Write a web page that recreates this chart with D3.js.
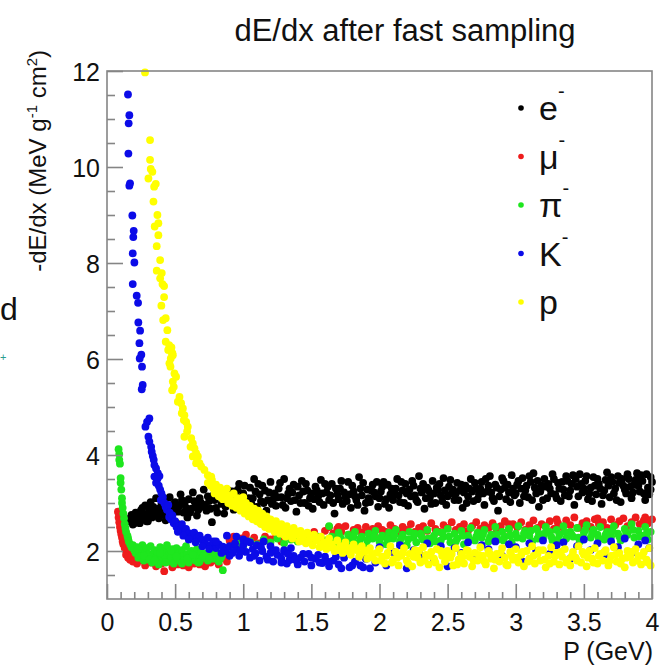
<!DOCTYPE html>
<html>
<head>
<meta charset="utf-8">
<script src="https://cdn.jsdelivr.net/npm/d3@7.9.0/dist/d3.min.js"></script>
<style>
  body { margin: 0; background: #fff; }
  svg { display: block; font-family: 'Liberation Sans', Arial, Helvetica, sans-serif; }
</style>
</head>
<body>
<svg id="chart" width="663" height="670"></svg>
<script>
// [P (GeV), -dE/dx (MeV g^-1 cm^2)]
const electron = [
  [0.17,2.62],[0.18,2.75],[0.19,2.55],[0.2,2.68],[0.21,2.8],[0.22,2.6],[0.23,2.72],[0.24,2.58],[0.25,2.85],[0.26,2.66],
  [0.27,2.78],[0.28,2.95],[0.29,2.62],[0.3,2.74],[0.31,2.88],[0.32,3.02],[0.33,2.7],[0.35,2.82],[0.36,3.1],[0.38,2.68],[0.39,2.9],
  [0.4,2.98],[0.41,2.76],[0.42,3.05],[0.43,2.64],[0.45,2.9],[0.46,3.12],[0.47,2.72],[0.49,2.86],[0.5,3.02],[0.51,2.58],
  [0.53,2.94],[0.54,3.18],[0.56,2.8],[0.57,3.0],[0.59,2.7],[0.6,3.08],[0.62,2.88],[0.63,3.22],[0.65,2.96],[0.66,2.74],
  [0.68,3.1],[0.7,2.92],[0.71,3.28],[0.73,2.84],[0.75,3.04],[0.77,2.6],[0.78,3.16],[0.8,2.9],[0.82,3.3],[0.84,2.98],[0.86,2.78],[0.88,3.12],
  [0.9,3.02],[0.92,3.24],[0.93,2.86],[0.95,3.14],[0.97,3.4],[0.98,2.96],[1.0,3.2],[1.02,3.05],[1.03,2.78],[1.04,3.1],[1.05,3.32],
  [1.07,3.1],[1.08,3.5],[1.1,2.92],[1.12,3.18],[1.14,3.36],[1.15,3.0],[1.17,2.84],[1.18,3.06],[1.19,3.22],[1.2,3.44],[1.22,3.08],
  [1.24,2.94],[1.26,3.3],[1.28,3.12],[1.3,3.5],[1.31,2.9],[1.33,3.2],[1.34,3.3],[1.35,3.04],[1.37,3.38],[1.39,2.82],[1.41,3.16],
  [1.43,3.46],[1.45,3.0],[1.47,3.26],[1.49,3.1],[1.5,3.2],[1.51,2.88],[1.53,3.34],[1.55,3.14],[1.57,3.48],[1.59,2.96],[1.61,3.22],
  [1.62,3.34],[1.63,3.06],[1.65,3.4],[1.67,2.78],[1.69,3.18],[1.71,3.3],[1.73,2.98],[1.75,3.12],[1.77,3.44],[1.78,3.18],[1.79,2.9],
  [1.81,3.24],[1.83,3.06],[1.85,3.54],[1.87,3.16],[1.89,2.84],[1.91,3.28],[1.92,3.1],[1.93,3.02],[1.95,3.38],[1.96,3.22],[1.97,3.14],[1.99,2.92],
  [2.01,3.24],[2.03,3.44],[2.05,3.08],[2.07,2.9],[2.08,3.18],[2.09,3.3],[2.11,3.18],[2.13,3.5],[2.15,3.02],[2.17,3.26],[2.19,3.4],
  [2.2,3.2],[2.21,2.94],[2.23,3.14],[2.25,3.36],[2.27,3.06],[2.29,3.56],[2.3,3.3],[2.31,3.22],[2.33,2.88],[2.35,3.32],[2.37,3.12],
  [2.39,3.46],[2.41,3.0],[2.42,3.32],[2.43,3.28],[2.45,3.16],[2.47,3.52],[2.49,2.96],[2.51,3.34],[2.53,3.2],[2.54,3.28],[2.55,3.06],
  [2.57,3.42],[2.59,3.26],[2.61,2.9],[2.63,3.36],[2.65,3.14],[2.66,3.3],[2.67,3.5],[2.69,3.04],[2.71,3.3],[2.73,3.18],[2.75,3.44],
  [2.77,2.96],[2.79,3.24],[2.8,3.36],[2.81,3.56],[2.83,3.1],[2.85,3.38],[2.87,2.84],[2.89,3.28],[2.91,3.46],[2.92,3.32],[2.93,3.08],
  [2.95,3.22],[2.97,3.58],[2.99,3.16],
  [3.01,3.38],[3.03,3.0],[3.04,3.3],[3.05,3.52],[3.07,3.26],[3.09,3.12],[3.11,3.44],[3.13,3.62],[3.14,3.32],[3.15,3.2],[3.17,2.92],
  [3.19,3.36],[3.21,3.5],[3.23,3.1],[3.24,3.4],[3.25,3.3],[3.27,3.6],[3.29,3.18],[3.31,3.42],[3.33,3.04],[3.34,3.44],[3.35,3.28],
  [3.37,3.56],[3.39,3.14],[3.41,3.4],[3.43,2.96],[3.44,3.5],[3.45,3.34],[3.47,3.6],[3.49,3.22],[3.51,3.46],[3.53,3.08],[3.55,3.32],
  [3.57,3.54],[3.58,3.36],[3.59,3.18],[3.61,3.4],[3.63,2.98],[3.65,3.26],[3.66,3.48],[3.67,3.64],[3.69,3.12],[3.71,3.44],[3.73,3.3],
  [3.75,3.56],[3.76,3.42],[3.77,3.02],[3.79,3.36],[3.81,3.2],[3.83,3.5],[3.84,3.34],[3.85,3.1],[3.87,3.38],[3.89,3.62],[3.91,3.24],
  [3.92,3.58],[3.93,3.46],[3.95,3.06],[3.97,3.32],[3.98,3.18],[3.99,3.54],
  [0.175,2.7],[0.2,2.58],[0.22,2.74],[0.24,2.66],[0.26,2.9],[0.28,2.7],[0.3,2.62],[0.32,2.84],[0.34,2.92],[0.37,2.76],
  [0.4,2.84],[0.44,2.78],[0.48,2.96],[0.52,2.82],[0.55,3.06],[0.58,2.9],[0.61,2.8],[0.64,3.04],[0.67,2.86],[0.69,3.0],
  [0.72,2.96],[0.74,3.14],[0.76,2.88],[0.79,3.06],[0.81,2.8],[0.83,3.14],[0.85,3.2],[0.87,2.92],[0.89,3.26],
  [0.91,3.1],[0.94,2.98],[0.96,3.28],[0.99,3.08],[1.01,3.36],[1.06,2.98],[1.09,3.24],[1.11,3.4],[1.13,3.04],[1.16,3.26],
  [1.21,2.98],[1.23,3.2],[1.25,3.12],[1.27,3.42],[1.29,2.96],[1.32,3.1],[1.36,3.22],[1.38,3.06],[1.4,3.34],[1.42,3.0],
  [1.44,3.24],[1.46,3.4],[1.48,2.94],[1.52,3.08],[1.54,3.26],[1.56,3.02],[1.58,3.2],[1.6,3.4],[1.64,3.16],[1.66,3.0],
  [1.68,3.3],[1.7,3.08],[1.72,3.46],[1.74,3.22],[1.76,3.04],[1.8,3.36],[1.82,3.14],[1.84,2.96],[1.86,3.3],[1.88,3.42],
  [1.9,3.0],[1.94,3.26],[1.98,3.44],
  [2.0,3.1],[2.02,3.34],[2.04,2.98],[2.06,3.38],[2.1,3.06],[2.12,3.3],[2.14,3.16],[2.16,3.44],[2.18,3.0],[2.22,3.28],
  [2.24,3.46],[2.26,3.16],[2.28,3.02],[2.32,3.4],[2.34,3.1],[2.36,3.26],[2.38,2.98],[2.4,3.2],[2.44,3.4],[2.46,3.04],
  [2.48,3.26],[2.5,3.14],[2.52,3.48],[2.56,3.2],[2.58,3.06],[2.6,3.38],[2.62,3.22],[2.64,3.0],[2.68,3.24],[2.7,3.42],
  [2.72,3.08],[2.74,3.3],[2.76,3.2],[2.78,3.5],[2.82,3.22],[2.84,3.04],[2.86,3.32],[2.88,3.14],[2.9,3.52],[2.94,3.38],
  [2.96,3.02],[2.98,3.3],
  [3.0,3.2],[3.02,3.46],[3.06,3.14],[3.08,3.36],[3.1,3.56],[3.12,3.06],[3.16,3.46],[3.18,3.24],[3.2,3.06],[3.22,3.34],
  [3.26,3.2],[3.28,3.5],[3.3,3.1],[3.32,3.3],[3.36,3.16],[3.38,3.46],[3.4,3.26],[3.42,3.58],[3.46,3.14],[3.48,3.4],
  [3.5,3.3],[3.52,3.56],[3.54,3.2],[3.56,3.04],[3.6,3.5],[3.62,3.3],[3.64,3.16],[3.68,3.36],[3.7,3.54],[3.72,3.2],
  [3.74,3.06],[3.78,3.5],[3.8,3.28],[3.82,3.6],[3.86,3.22],[3.88,3.48],[3.9,3.36],[3.94,3.2],[3.96,3.6],[3.99,3.28],[4.0,3.44]
];

const muon = [
  [0.08,2.82],[0.085,2.7],[0.09,2.76],[0.09,2.6],[0.095,2.5],[0.1,2.42],[0.1,2.55],[0.105,2.35],[0.11,2.28],[0.11,2.44],
  [0.115,2.2],[0.12,2.14],[0.12,2.3],[0.13,2.06],[0.13,2.18],[0.14,2.0],[0.14,1.92],[0.15,1.96],[0.155,1.86],[0.16,1.9],
  [0.17,1.82],[0.18,1.88],[0.19,1.78],[0.2,1.84],
  [0.22,1.74],[0.24,1.9],[0.26,1.8],[0.28,1.7],[0.3,1.86],[0.32,1.76],[0.34,1.94],[0.36,1.68],[0.38,1.82],[0.4,1.74],
  [0.42,1.58],[0.44,1.9],[0.46,1.78],[0.48,1.66],[0.5,1.84],[0.52,1.72],[0.54,1.92],[0.56,1.7],[0.58,1.8],[0.6,1.66],
  [0.62,1.86],[0.64,1.74],[0.66,1.96],[0.68,1.72],[0.7,1.82],[0.72,1.68],[0.74,1.88],[0.76,1.76],[0.78,1.9],[0.8,1.8],
  [0.82,1.72],[0.85,1.86],[0.88,1.78],
  [0.9,2.22],[0.93,2.3],[0.96,2.18],[0.99,2.26],[1.02,2.34],[1.05,2.2],[1.08,2.28],[1.12,2.16],[1.16,2.3],[1.2,2.24],
  [1.24,2.36],[1.28,2.2],[1.32,2.3],[1.36,2.26],[1.4,2.38],[1.44,2.22],[1.48,2.32],[1.52,2.4],[1.56,2.28],
  [1.6,2.42],[1.63,2.5],[1.66,2.36],[1.69,2.46],[1.7,2.5],[1.72,2.4],[1.75,2.52],[1.78,2.34],[1.81,2.44],[1.84,2.48],[1.87,2.38],
  [1.9,2.5],[1.93,2.42],[1.95,2.46],[1.96,2.36],[1.99,2.52],[2.02,2.44],[2.05,2.4],[2.08,2.54],[2.11,2.46],[2.14,2.38],[2.17,2.5],
  [2.2,2.44],[2.23,2.56],[2.26,2.4],[2.29,2.48],[2.3,2.44],[2.32,2.52],[2.35,2.42],[2.38,2.58],[2.41,2.46],[2.44,2.4],[2.47,2.54],
  [2.5,2.48],[2.53,2.6],[2.56,2.44],[2.59,2.5],[2.6,2.46],[2.62,2.56],[2.65,2.42],[2.68,2.52],[2.71,2.6],[2.74,2.46],[2.77,2.54],
  [2.8,2.48],[2.83,2.58],[2.86,2.44],[2.89,2.52],[2.92,2.62],[2.95,2.46],[2.95,2.56],[2.98,2.56],[3.01,2.5],[3.04,2.6],[3.07,2.44],
  [3.1,2.54],[3.13,2.64],[3.16,2.48],[3.19,2.56],[3.22,2.52],[3.25,2.62],[3.28,2.46],[3.3,2.66],[3.31,2.58],[3.34,2.5],[3.37,2.64],
  [3.4,2.54],[3.43,2.7],[3.46,2.48],[3.49,2.58],[3.52,2.62],[3.55,2.5],[3.58,2.66],[3.6,2.68],[3.61,2.56],[3.64,2.6],[3.67,2.48],
  [3.7,2.66],[3.73,2.54],[3.76,2.62],[3.79,2.68],[3.82,2.52],[3.85,2.6],[3.88,2.7],[3.91,2.56],[3.94,2.64],[3.95,2.7],[3.97,2.58],[4.0,2.66]
];

const pion = [
  [0.085,4.12],[0.09,4.02],[0.09,3.9],[0.095,3.82],[0.1,3.52],[0.1,3.42],[0.105,3.28],[0.11,3.1],[0.11,3.0],[0.115,2.9],
  [0.12,2.78],[0.125,2.68],[0.13,2.56],[0.135,2.48],[0.14,2.4],[0.15,2.32],[0.155,2.26],[0.16,2.2],[0.17,2.14],[0.18,2.08],
  [0.19,2.12],[0.2,2.02],
  [0.21,1.96],[0.22,2.08],[0.23,1.86],[0.24,2.0],[0.25,1.9],[0.26,2.12],[0.27,1.8],[0.28,1.98],[0.29,2.06],[0.3,1.84],
  [0.31,1.94],[0.32,2.1],[0.33,1.76],[0.34,1.92],[0.35,2.02],[0.36,1.86],[0.37,1.98],[0.38,1.72],[0.39,2.08],[0.4,1.9],
  [0.41,1.8],[0.42,2.0],[0.43,1.88],[0.44,2.12],[0.45,1.78],[0.46,1.96],[0.47,1.86],[0.48,2.04],[0.49,1.74],[0.5,1.92],
  [0.51,2.06],[0.52,1.84],[0.53,1.96],[0.54,1.78],[0.55,2.02],[0.56,1.9],[0.57,1.82],[0.58,2.1],[0.59,1.94],[0.6,1.76],
  [0.61,1.88],[0.62,2.0],[0.63,1.84],[0.64,1.96],[0.65,1.8],[0.66,2.04],[0.67,1.9],[0.68,1.78],[0.69,1.98],[0.7,1.86],
  [0.72,1.94],[0.74,1.8],[0.76,2.0],[0.78,1.84],[0.8,1.92],[0.82,1.78],[0.84,1.88],[0.85,1.6],[0.88,1.96],[0.92,2.04],
  [0.97,2.16],[1.0,2.1],
  [0.23,2.04],[0.27,1.9],[0.31,1.82],[0.35,1.8],[0.39,1.96],[0.43,1.76],[0.47,2.0],[0.51,1.88],[0.55,1.74],[0.59,1.84],
  [0.63,1.92],[0.67,1.76],[0.71,1.9],[0.75,1.84],[0.79,1.96],[0.83,1.84],
  [1.05,2.2],[1.1,2.14],[1.15,2.24],[1.2,2.18],[1.25,2.26],[1.3,2.16],[1.35,2.24],[1.4,2.2],[1.45,2.28],[1.5,2.18],
  [1.55,2.3],[1.6,2.22],[1.63,2.52],
  [1.65,2.3],[1.67,2.16],[1.7,2.38],[1.72,2.24],[1.75,2.12],[1.77,2.34],[1.8,2.22],[1.82,2.4],[1.85,2.18],[1.87,2.3],
  [1.9,2.1],[1.92,2.36],[1.95,2.26],[1.97,2.42],[2.0,2.2],[2.02,2.32],[2.05,2.14],[2.07,2.38],[2.1,2.26],[2.12,2.44],
  [2.15,2.2],[2.17,2.34],[2.2,2.12],[2.22,2.4],[2.25,2.28],[2.27,2.18],[2.3,2.36],[2.32,2.24],[2.35,2.44],[2.37,2.16],
  [2.4,2.32],[2.42,2.4],[2.45,2.22],[2.47,2.3],[2.5,2.46],[2.52,2.18],[2.55,2.36],[2.57,2.26],[2.6,2.42],[2.62,2.14],
  [2.65,2.32],[2.67,2.48],[2.7,2.22],[2.72,2.38],[2.75,2.28],[2.77,2.44],[2.8,2.2],[2.82,2.34],[2.85,2.5],[2.87,2.24],
  [2.9,2.4],[2.92,2.3],[2.95,2.46],[2.97,2.18],[3.0,2.36],[3.02,2.52],[3.05,2.26],[3.07,2.42],[3.1,2.32],[3.12,2.2],
  [3.15,2.46],[3.17,2.36],[3.2,2.28],[3.22,2.5],[3.25,2.4],[3.27,2.22],[3.3,2.44],[3.32,2.34],[3.35,2.52],[3.37,2.26],
  [3.4,2.4],[3.42,2.3],[3.45,2.48],[3.47,2.2],[3.5,2.38],[3.52,2.54],[3.55,2.28],[3.57,2.44],[3.6,2.34],[3.62,2.5],
  [3.65,2.24],[3.67,2.4],[3.7,2.3],[3.72,2.52],[3.75,2.36],[3.77,2.22],[3.8,2.46],[3.82,2.34],[3.85,2.56],[3.87,2.28],
  [3.9,2.42],[3.92,2.32],[3.95,2.5],[3.97,2.24],[3.99,2.4],
  [1.66,2.24],[1.71,2.3],[1.76,2.2],[1.81,2.3],[1.86,2.26],[1.91,2.22],[1.96,2.3],[2.01,2.28],[2.06,2.24],[2.11,2.34],
  [2.16,2.28],[2.21,2.24],[2.26,2.36],[2.31,2.3],[2.36,2.26],[2.41,2.2],[2.46,2.38],[2.51,2.3],[2.56,2.2],[2.61,2.32],
  [2.66,2.24],[2.71,2.3],[2.76,2.36],[2.81,2.28],[2.86,2.34],[2.91,2.22],[2.96,2.32],[3.01,2.28],[3.06,2.36],[3.11,2.42],
  [3.16,2.26],[3.21,2.36],[3.26,2.3],[3.31,2.24],[3.36,2.4],[3.41,2.34],[3.46,2.28],[3.51,2.44],[3.56,2.36],[3.61,2.26],
  [3.66,2.34],[3.71,2.42],[3.76,2.3],[3.81,2.38],[3.86,2.44],[3.91,2.3],[3.96,2.36]
];

const kaon = [
  [0.154,11.51],[0.164,11.08],[0.159,10.91],[0.157,10.28],[0.169,9.66],[0.164,9.61],[0.186,8.99],[0.196,8.67],[0.193,8.54],
  [0.189,8.2],[0.201,8.01],[0.189,7.56],[0.218,7.32],[0.228,7.17],[0.23,6.76],[0.243,6.59],[0.238,6.33],[0.252,6.09],
  [0.24,6.01],[0.257,5.84],[0.262,5.46],[0.255,5.37],[0.311,4.76],[0.294,4.69],[0.282,4.59],[0.304,4.38],[0.311,4.28],
  [0.324,4.17],[0.328,4.07],[0.336,3.98],[0.343,3.9],[0.348,3.79],[0.36,3.72],[0.373,3.62],[0.385,3.56],[0.348,3.55],
  [0.36,3.42],[0.37,3.5],[0.38,3.36],[0.39,3.28],[0.4,3.2],[0.395,3.06],[0.41,3.12],[0.42,3.0],[0.43,2.92],[0.44,2.86],
  [0.45,2.96],[0.456,2.71],[0.46,2.8],[0.47,2.66],[0.48,2.74],[0.49,2.58],[0.5,2.62],[0.51,2.5],[0.53,2.51],[0.54,2.44],
  [0.55,2.56],[0.57,2.4],[0.58,2.46],[0.6,2.37],[0.62,2.3],[0.64,2.38],[0.66,2.26],[0.68,2.32],[0.7,2.23],[0.72,2.16],
  [0.74,2.28],[0.76,2.12],[0.78,2.2],[0.8,2.06],[0.82,2.14],[0.85,2.09],[0.87,2.0],[0.88,2.32],[0.9,2.1],[0.92,1.96],
  [0.95,2.04],[0.95,2.3],[0.97,1.9],[1.0,2.12],[1.0,2.24],[1.02,1.98],[1.05,1.86],[1.05,2.18],[1.07,2.04],[1.09,1.95],
  [1.1,2.12],[1.12,1.8],[1.14,2.0],[1.15,2.2],[1.17,1.88],[1.2,1.96],[1.2,2.1],[1.22,1.78],[1.25,1.92],[1.28,1.84],
  [1.3,2.02],[1.3,1.98],[1.32,1.74],[1.34,1.81],[1.35,2.06],[1.37,1.9],[1.4,1.72],[1.42,1.86],[1.45,1.78],[1.48,1.94],
  [1.5,1.7],[1.53,1.84],[1.56,1.76],[1.58,1.75],[1.6,1.88],[1.63,1.68],[1.66,1.8],[1.7,1.72],[1.74,1.86],[1.78,1.66],
  [1.82,1.78],[1.86,1.7],[1.9,1.84],[1.93,1.64],[1.97,1.76],
  [0.52,2.4],[0.56,2.32],[0.6,2.24],[0.65,2.18],[0.7,2.1],[0.75,2.04],[0.8,2.2],[0.84,1.96],[0.9,1.9],[0.94,2.16],
  [0.98,2.0],[1.03,2.2],[1.08,1.9],[1.13,2.08],[1.18,1.82],[1.24,2.02],[1.28,1.76],[1.33,1.94],[1.38,1.82],[1.44,1.94],
  [1.5,1.86],[1.55,1.92],[1.62,1.78],[1.68,1.88],[1.72,1.64],[1.8,1.7],[1.88,1.66],
  [2.0,2.08],[2.05,1.7],[2.1,1.98],[2.15,2.12],[2.2,1.64],[2.25,2.02],[2.3,1.92],[2.35,2.16],[2.4,1.8],[2.45,2.1],
  [2.5,1.68],[2.55,2.06],[2.6,1.96],[2.65,2.18],[2.7,1.86],[2.75,2.12],[2.8,2.04],[2.85,2.2],[2.9,1.9],[2.95,2.14],
  [3.0,2.08],[3.05,1.78],[3.1,2.16],[3.15,2.0],[3.2,2.22],[3.25,1.94],[3.3,2.12],[3.35,2.18],[3.4,1.84],[3.45,2.1],
  [3.5,2.24],[3.55,2.02],[3.6,2.16],[3.65,1.92],[3.7,2.2],[3.75,2.08],[3.8,2.26],[3.85,1.96],[3.9,2.14],[3.95,2.22],[3.98,2.06]
];

const proton = [
  [0.279,11.97],[0.316,10.56],[0.316,10.15],[0.321,9.96],[0.333,9.9],[0.304,9.76],[0.346,9.59],[0.358,9.65],[0.341,9.28],
  [0.37,9.0],[0.35,8.76],[0.377,8.83],[0.377,8.58],[0.365,8.35],[0.39,8.06],[0.365,7.84],[0.402,7.79],[0.39,7.68],
  [0.407,7.56],[0.419,7.52],[0.419,7.29],[0.399,7.11],[0.431,6.85],[0.412,6.81],[0.443,6.6],[0.431,6.36],[0.456,6.29],
  [0.473,6.24],[0.449,6.19],[0.48,6.12],[0.468,6.01],[0.471,6.15],[0.483,6.08],[0.458,5.91],[0.466,5.84],[0.495,5.7],
  [0.507,5.63],[0.483,5.53],[0.49,5.42],[0.478,5.35],[0.532,5.21],[0.52,5.11],[0.544,5.08],[0.557,4.97],[0.568,4.83],
  [0.549,4.87],[0.581,4.69],[0.593,4.59],[0.564,4.73],[0.588,4.49],[0.568,4.38],[0.618,4.35],[0.63,4.24],[0.613,4.17],
  [0.642,4.14],[0.654,4.04],[0.63,3.97],[0.667,3.97],[0.679,3.83],[0.691,3.76],[0.715,3.69],[0.74,3.58],[0.654,3.83],[0.765,3.55],
  [0.74,3.42],[0.76,3.36],[0.77,3.48],[0.78,3.3],[0.79,3.2],[0.8,3.38],[0.81,3.26],[0.82,3.14],[0.83,3.32],[0.84,3.2],
  [0.85,3.08],[0.86,3.24],[0.87,3.12],[0.88,3.3],[0.89,3.0],[0.9,3.16],[0.91,3.06],[0.92,2.94],[0.93,3.2],[0.94,3.04],
  [0.95,2.9],[0.96,3.1],[0.97,2.98],[0.98,2.84],[0.99,3.06],[1.0,2.92],[1.01,2.78],[1.02,3.0],[1.03,2.86],[1.04,2.72],
  [1.05,2.94],[1.06,2.8],[1.07,2.66],[1.08,2.88],[1.09,2.74],[1.1,2.62],[1.11,2.84],[1.12,2.7],[1.13,2.56],[1.14,2.78],
  [1.15,2.64],[1.16,2.5],[1.17,2.72],[1.18,2.58],[1.19,2.46],[1.2,2.66],[1.22,2.52],[1.23,2.4],[1.24,2.62],[1.26,2.48],
  [1.27,2.36],[1.28,2.56],[1.3,2.44],[1.31,2.3],[1.32,2.52],[1.34,2.38],[1.36,2.26],[1.37,2.48],[1.39,2.34],[1.41,2.2],
  [1.42,2.42],[1.44,2.3],[1.46,2.16],[1.47,2.38],[1.49,2.26],[1.51,2.12],[1.52,2.34],[1.54,2.22],[1.56,2.08],[1.57,2.3],
  [1.59,2.18],[1.61,2.04],[1.63,2.26],[1.65,2.14],[1.67,2.0],[1.69,2.22],[1.71,2.1],[1.73,1.96],[1.75,2.18],[1.77,2.06],
  [1.79,1.92],[1.81,2.14],[1.83,2.02],[1.85,1.88],[1.87,2.1],[1.89,1.98],[1.91,1.84],[1.93,2.06],[1.95,1.94],[1.97,1.8],
  [1.0,3.12],[1.04,2.9],[1.08,2.78],[1.12,2.6],[1.16,2.66],[1.2,2.54],[1.25,2.44],[1.29,2.5],[1.33,2.32],[1.38,2.42],
  [1.43,2.22],[1.48,2.2],[1.53,2.26],[1.58,2.1],[1.62,2.16],[1.66,2.06],[1.7,2.02],[1.74,2.1],[1.78,1.98],[1.82,2.06],
  [1.86,1.94],[1.9,2.0],[1.94,1.88],[1.98,1.96],
  [2.0,2.04],[2.02,1.88],[2.04,1.74],[2.06,1.96],[2.08,2.1],[2.1,1.82],[2.12,1.98],[2.14,1.7],[2.16,1.9],[2.18,2.06],
  [2.2,1.8],[2.22,1.94],[2.24,1.68],[2.26,2.02],[2.28,1.86],[2.3,1.76],[2.32,2.08],[2.34,1.92],[2.36,1.72],[2.38,1.98],
  [2.4,1.84],[2.42,2.04],[2.44,1.66],[2.46,1.9],[2.48,1.78],[2.5,2.0],[2.52,1.86],[2.54,1.7],[2.56,2.06],[2.58,1.82],
  [2.6,1.94],[2.62,1.74],[2.64,2.02],[2.66,1.88],[2.68,1.68],[2.7,1.96],[2.72,1.8],[2.74,2.08],[2.76,1.9],[2.78,1.72],
  [2.8,2.0],[2.82,1.84],[2.84,1.64],[2.86,1.94],[2.88,1.78],[2.9,2.06],[2.92,1.86],[2.94,1.7],[2.96,1.98],[2.98,1.82],
  [3.0,2.04],[3.02,1.76],[3.04,1.92],[3.06,1.68],[3.08,2.0],[3.1,1.84],[3.12,2.1],[3.14,1.74],[3.16,1.94],[3.18,1.8],
  [3.2,2.02],[3.22,1.66],[3.24,1.9],[3.26,2.08],[3.28,1.78],[3.3,1.96],[3.32,1.72],[3.34,1.88],[3.36,2.04],[3.38,1.82],
  [3.4,1.7],[3.42,1.98],[3.44,1.86],[3.46,2.1],[3.48,1.76],[3.5,1.92],[3.52,1.68],[3.54,2.0],[3.56,1.84],[3.58,2.06],
  [3.6,1.74],[3.62,1.94],[3.64,1.8],[3.66,2.02],[3.68,1.7],[3.7,1.9],[3.72,2.08],[3.74,1.78],[3.76,1.96],[3.78,1.84],
  [3.8,1.66],[3.82,2.0],[3.84,1.88],[3.86,1.76],[3.88,2.04],[3.9,1.9],[3.92,1.72],[3.94,1.98],[3.96,1.82],[3.98,2.06],[3.99,1.7],
  [2.01,1.8],[2.05,1.9],[2.09,1.76],[2.13,1.86],[2.17,1.96],[2.21,1.74],[2.25,1.88],[2.29,2.0],[2.33,1.8],[2.37,1.9],
  [2.41,1.76],[2.45,2.0],[2.49,1.86],[2.53,1.94],[2.57,1.72],[2.61,1.88],[2.65,2.0],[2.69,1.8],[2.73,1.92],[2.77,1.78],
  [2.81,1.94],[2.85,1.82],[2.89,1.96],[2.93,1.72],[2.97,1.9],[3.01,1.86],[3.05,1.98],[3.09,1.78],[3.13,1.9],[3.17,2.02],
  [3.21,1.82],[3.25,1.74],[3.29,1.9],[3.33,1.98],[3.37,1.76],[3.41,1.88],[3.45,1.8],[3.49,1.98],[3.53,1.86],[3.57,1.76],
  [3.61,1.9],[3.65,1.98],[3.69,1.8],[3.73,1.92],[3.77,1.74],[3.81,1.86],[3.85,1.98],[3.89,1.8],[3.93,1.9],[3.97,1.76]
];

const seriesNames = ['e', 'μ', 'π', 'K', 'p'];
const seriesCharge = ['-', '-', '-', '-', ''];
const seriesColors = ['#000000', '#ee1c1c', '#1ee61e', '#0b0be8', '#ffff00'];
const seriesData = [electron, muon, pion, kaon, proton];

const xMajor = [0, 0.5, 1, 1.5, 2, 2.5, 3, 3.5, 4];
const xMajorLabels = ['0', '0.5', '1', '1.5', '2', '2.5', '3', '3.5', '4'];
const yMajor = [2, 4, 6, 8, 10, 12];

const svg = d3.select('#chart');

const x = d3.scaleLinear().domain([0, 4]).range([107, 652]);
const y = d3.scaleLinear().domain([1, 12]).range([599, 71]);

const xMinor = d3.range(0, 40).map((i) => i / 10).filter((v) => !xMajor.includes(v));
const yMinor = d3.range(3, 24).map((i) => i / 2).filter((v) => !yMajor.includes(v));

// title
svg.append('text')
  .attr('x', 405)
  .attr('y', 41)
  .attr('text-anchor', 'middle')
  .attr('font-size', 31)
  .attr('fill', '#111')
  .text('dE/dx after fast sampling');

// stray text at the left edge of the slide
svg.append('text')
  .attr('x', 0)
  .attr('y', 320)
  .attr('font-size', 32)
  .attr('fill', '#111')
  .text('d');
svg.append('text')
  .attr('x', 0)
  .attr('y', 361)
  .attr('font-size', 11)
  .attr('fill', '#2a9d8f')
  .text('+');

// points
const plot = svg.append('g');
seriesData.forEach((data, i) => {
  plot.append('g')
    .attr('fill', seriesColors[i])
    .selectAll('circle')
    .data(data)
    .join('circle')
    .attr('cx', (d) => x(d[0]))
    .attr('cy', (d) => y(d[1]))
    .attr('r', 3.9);
});

// frame
svg.append('rect')
  .attr('x', x(0))
  .attr('y', y(12))
  .attr('width', x(4) - x(0))
  .attr('height', y(1) - y(12))
  .attr('fill', 'none')
  .attr('stroke', '#858585')
  .attr('stroke-width', 1.6);

// axes
const xAxis = svg.append('g')
  .attr('transform', `translate(0,${y(1)})`)
  .call(d3.axisBottom(x).tickValues(xMajor).tickSize(-15).tickPadding(8)
    .tickFormat((d, i) => xMajorLabels[i]));
svg.append('g')
  .attr('transform', `translate(0,${y(1)})`)
  .call(d3.axisBottom(x).tickValues(xMinor).tickSize(-7).tickFormat(''));

const yAxis = svg.append('g')
  .attr('transform', `translate(${x(0)},0)`)
  .call(d3.axisLeft(y).tickValues(yMajor).tickSize(-16).tickPadding(7));
svg.append('g')
  .attr('transform', `translate(${x(0)},0)`)
  .call(d3.axisLeft(y).tickValues(yMinor).tickSize(-8).tickFormat(''));

svg.selectAll('.domain').remove();
svg.selectAll('.tick line').attr('stroke', '#858585').attr('stroke-width', 1.6);
xAxis.selectAll('text').attr('font-size', 25).attr('fill', '#111').attr('dy', '0.95em');
yAxis.selectAll('text').attr('font-size', 25).attr('fill', '#111').attr('dy', '0.36em');
svg.selectAll('text').attr('font-family', "'Liberation Sans', Arial, sans-serif");

// axis titles
svg.append('text')
  .attr('x', 653)
  .attr('y', 660)
  .attr('text-anchor', 'end')
  .attr('font-size', 25)
  .attr('fill', '#111')
  .text('P (GeV)');

const yTitle = svg.append('text')
  .attr('transform', 'translate(46,50) rotate(-90)')
  .attr('text-anchor', 'end')
  .attr('font-size', 24)
  .attr('fill', '#111');
yTitle.append('tspan').text('-dE/dx (MeV g');
yTitle.append('tspan').attr('font-size', 15).attr('dy', -9).text('-1');
yTitle.append('tspan').attr('dy', 9).text(' cm');
yTitle.append('tspan').attr('font-size', 15).attr('dy', -9).text('2');
yTitle.append('tspan').attr('dy', 9).text(')');

// legend
const legend = svg.append('g');
seriesNames.forEach((name, i) => {
  const ly = 108 + i * 48.5;
  legend.append('circle')
    .attr('cx', 521)
    .attr('cy', ly)
    .attr('r', 2.8)
    .attr('fill', seriesColors[i]);
  const t = legend.append('text')
    .attr('x', 539)
    .attr('y', ly + 12)
    .attr('font-size', 34)
    .attr('fill', '#111');
  t.append('tspan').text(name);
  if (seriesCharge[i]) {
    t.append('tspan').attr('font-size', 20).attr('dy', -22).text(seriesCharge[i]);
  }
});
</script>
</body>
</html>
